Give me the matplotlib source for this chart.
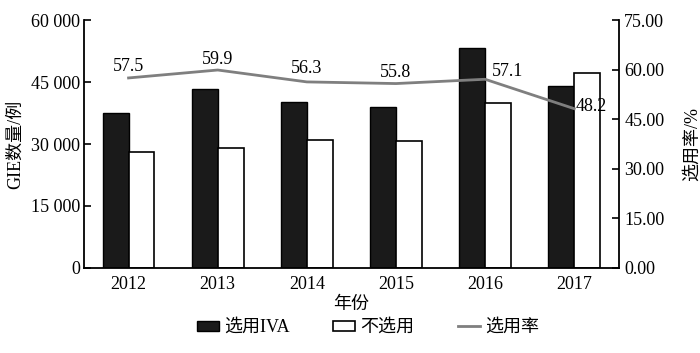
import matplotlib
matplotlib.use("Agg")
import matplotlib.pyplot as plt
import numpy as np
from matplotlib.patches import Patch
from matplotlib.lines import Line2D

plt.rcParams['font.family'] = ['Liberation Serif', 'Noto Sans CJK SC', 'DejaVu Sans']
plt.rcParams['font.size'] = 13

# --- data ---
years = ['2012', '2013', '2014', '2015', '2016', '2017']
iva_used = [37600, 43400, 40200, 38900, 53200, 44100]
iva_not_used = [28000, 29000, 31000, 30800, 39900, 47200]
use_rate = [57.5, 59.9, 56.3, 55.8, 57.1, 48.2]
left_ticks = [0, 15000, 30000, 45000, 60000]
left_tick_labels = ['0', '15 000', '30 000', '45 000', '60 000']
right_ticks = [0, 15, 30, 45, 60, 75]

# label offsets in pixels (dx, dy) and alignment
label_pos = [((0, 11), 'center'), ((0, 11), 'center'), ((0, 13), 'center'),
             ((0, 11), 'center'), ((7, 8), 'left'), ((1, 2), 'left')]

fig = plt.figure(figsize=(7, 3.53), dpi=100)
ax = fig.add_axes([0.12, 0.241, 0.764, 0.702])
x = np.arange(len(years))
w = 0.29

ax.bar(x - w / 2, iva_used, w, color='#1a1a1a', edgecolor='black', linewidth=1)
ax.bar(x + w / 2, iva_not_used, w, color='white', edgecolor='black', linewidth=1.2)

ax.set_xlim(-0.5, 5.5)
ax.set_ylim(0, 60000)
ax.set_xticks(x)
ax.set_xticklabels(years)
ax.set_yticks(left_ticks)
ax.set_yticklabels(left_tick_labels)
ax.tick_params(axis='y', direction='in', length=5, width=1.2, pad=3)
ax.tick_params(axis='x', length=0, pad=6)
ax.set_ylabel('GIE数量/例', labelpad=5)
ax.set_xlabel('年份', labelpad=2)
ax.spines['top'].set_visible(False)
ax.spines['right'].set_visible(False)
for s in ['left', 'bottom']:
    ax.spines[s].set_linewidth(1.3)

ax2 = ax.twinx()
ax2.plot(x, use_rate, color='#7f7f7f', linewidth=2)
ax2.set_ylim(0, 75)
ax2.set_yticks(right_ticks)
ax2.set_yticklabels([f'{t:.2f}' for t in right_ticks])
ax2.tick_params(axis='y', direction='in', length=5, width=1.2, pad=4)
ax2.set_ylabel('选用率/%', rotation=90, labelpad=14)
ax2.spines['top'].set_visible(False)
ax2.spines['left'].set_visible(False)
ax2.spines['bottom'].set_visible(False)
ax2.spines['right'].set_linewidth(1.3)

for xi, yi, ((dx, dy), ha) in zip(x, use_rate, label_pos):
    ax2.annotate(f'{yi}', (xi, yi), textcoords='offset pixels', xytext=(dx, dy),
                 ha=ha, va='center')

handles = [Patch(facecolor='#1a1a1a', edgecolor='black', label='选用IVA'),
           Patch(facecolor='white', edgecolor='black', linewidth=1.2, label='不选用'),
           Line2D([], [], color='#7f7f7f', linewidth=2, label='选用率')]
fig.legend(handles=handles, loc='center', bbox_to_anchor=(0.526, 0.072), ncol=3,
           frameon=False, handlelength=1.2, handleheight=0.45, handletextpad=0.3,
           columnspacing=2.4, fontsize=13)

fig.savefig('out.png', dpi=100)
